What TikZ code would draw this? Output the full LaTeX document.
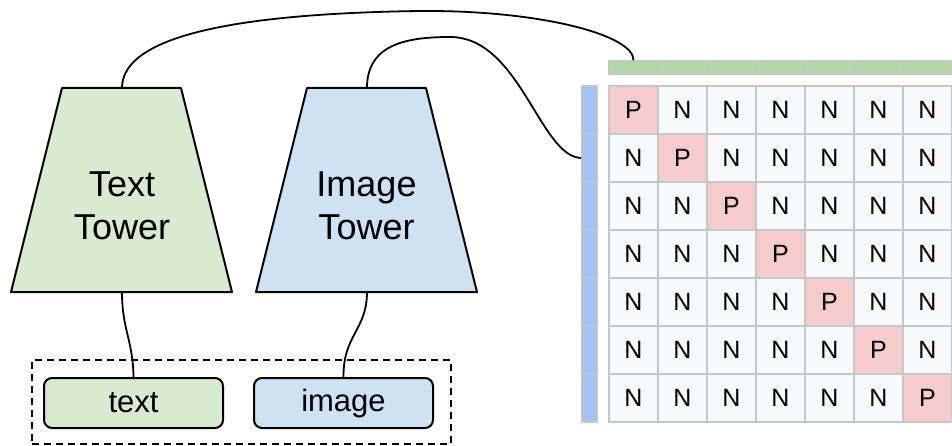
\documentclass[tikz,border=0pt]{standalone}
\usepackage{fontspec}
\setmainfont{Liberation Sans}
\definecolor{tgreen}{HTML}{D9EAD3}
\definecolor{tblue}{HTML}{CFE2F3}
\definecolor{gbar}{HTML}{B6D7A8}
\definecolor{bbar}{HTML}{A4C2F4}
\definecolor{cellc}{HTML}{F8F9FA}
\definecolor{pcell}{HTML}{F4CCCC}
\definecolor{gridc}{RGB}{196,198,202}
\begin{document}
\begin{tikzpicture}[x=1pt,y=-1pt,line join=round]
\useasboundingbox (0,0) rectangle (952,446);
\tikzset{
  outl/.style={draw=black,line width=2pt},
  wire/.style={draw=black,line width=1.8pt},
  towertext/.style={font=\fontsize{36}{43}\selectfont,align=center,text=black,inner sep=0pt},
  inbox/.style={draw=black,line width=2pt,rounded corners=8pt,minimum width=179pt,minimum height=50pt,inner sep=0pt,font=\fontsize{31}{37}\selectfont},
  cell/.style={draw=gridc,line width=2pt,minimum width=49pt,minimum height=48pt,inner sep=0pt,font=\fontsize{25}{30}\selectfont},
  gseg/.style={draw=gridc,line width=1.5pt,fill=gbar,minimum width=49pt,minimum height=13pt,inner sep=0pt},
  bseg/.style={draw=gridc,line width=1.5pt,fill=bbar,minimum width=15pt,minimum height=48pt,inner sep=0pt},
  grp/.style={draw=black,line width=2pt,dash pattern=on 7pt off 5pt,minimum width=419pt,minimum height=84pt,inner sep=0pt}
}
% towers
\draw[outl,fill=tgreen] (62,88) -- (181,88) -- (232,292) -- (11,292) -- cycle;
\coordinate (tt-top) at (122,88);
\coordinate (tt-bot) at (122,292);
\node[towertext] (tt) at (122,205.6) {Text\\Tower};
\draw[outl,fill=tblue] (307,88) -- (426,88) -- (477,292) -- (256,292) -- cycle;
\coordinate (it-top) at (367,88);
\coordinate (it-bot) at (367,292);
\node[towertext] (it) at (366.5,205.6) {Image\\Tower};
% inputs
\node[grp] (inputs) at (241.5,402) {};
\node[inbox,fill=tgreen] (tbox) at (133.5,403) {text};
\node[inbox,fill=tblue] (ibox) at (343.5,403) {image};
% bars
\foreach \j in {1,...,7}{
  \node[gseg] (g-\j) at ({584.5+49*\j},67.5) {};
}
\foreach \i in {1,...,7}{
  \node[bseg] (b-\i) at (589.5,{62+48*\i}) {};
}
% matrix
\foreach \i in {1,...,7}{
  \foreach \j in {1,...,7}{
    \ifnum\i=\j \def\lab{P}\def\fc{pcell}\else\def\lab{N}\def\fc{cellc}\fi
    \node[cell,fill=\fc] (m-\i-\j) at ({584.5+49*\j},{62+48*\i}) {\lab};
  }
}
% wires
\draw[wire] (tt-bot) .. controls (122,330) and (133,340) .. (tbox.north);
\draw[wire] (it-bot) .. controls (367,330) and (343,335) .. (ibox.north);
\draw[wire] (tt-top) .. controls (122,45) and (200,14) .. (420,11) .. controls (540,10) and (634,35) .. (g-1.north);
\draw[wire] (it-top) .. controls (367,45) and (405,37) .. (450,37) .. controls (520,37) and (540,157) .. (b-2.west);
\end{tikzpicture}
\end{document}
